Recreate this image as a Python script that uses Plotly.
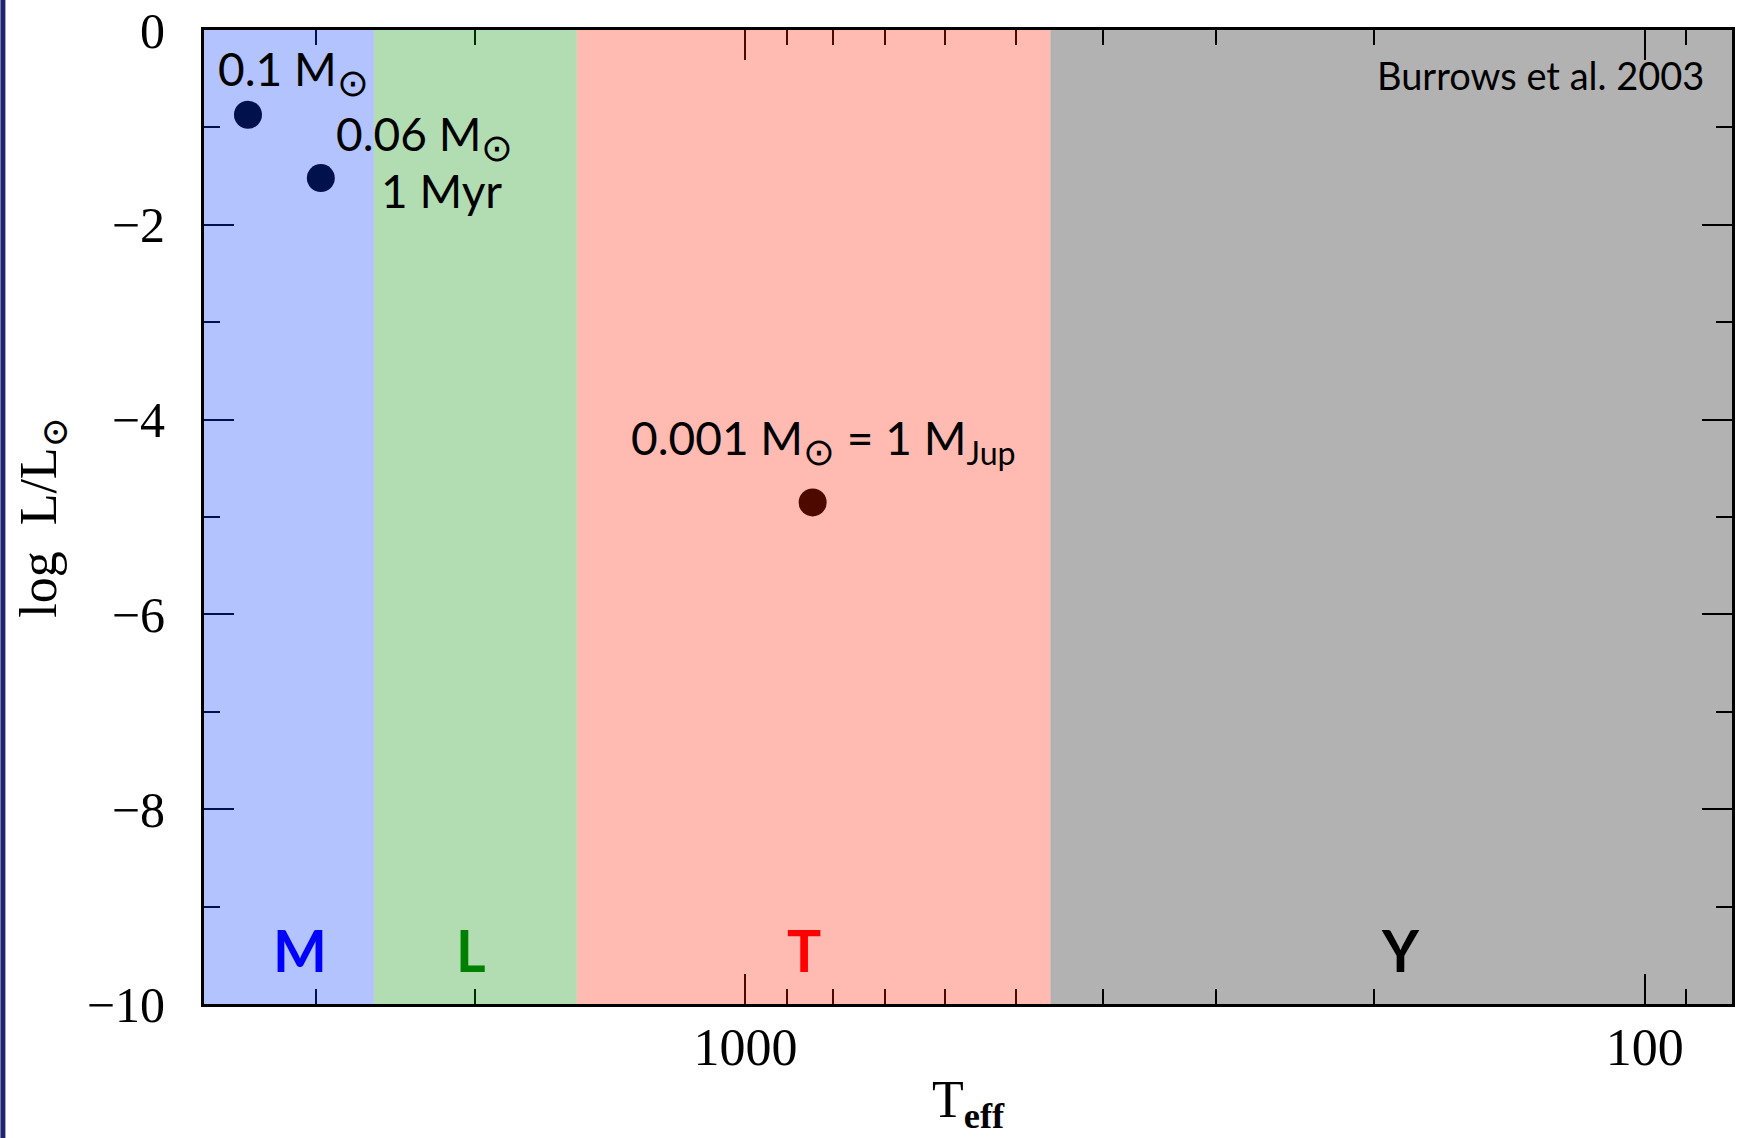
import numpy as np
import plotly.graph_objects as go

# Spectral-class bands (Teff edges in K, hot -> cool)
band_names = ["M", "L", "T", "Y"]
band_edges = [4000, 2590, 1540, 458, 80]
band_fill = ["rgb(0,55,248)", "rgb(0,140,0)", "rgb(255,30,0)", "rgb(0,0,0)"]
label_colors = ["#0000ff", "#008000", "#ff0000", "#000000"]
label_teff = [3130, 2018, 860, 187]
label_logL = -9.45

# Burrows et al. 2003 models at 1 Myr
mass_labels = ["0.1", "0.06", "0.001"]
teff = [3574, 2966, 842]
logL = [-0.87, -1.52, -4.85]

x_major = [1000, 100]
x_major_text = ["1000", "100"]
x_minor = [3000, 2000, 900, 800, 700, 600, 500, 400, 300, 200, 90]
y_range = [-10, 0]

W, H = 1737, 1138
ML, MR, MT, MB = 204, 2, 29, 134
PW, PH = W - ML - MR, H - MT - MB


def paper(xp, yp):
    return (xp - ML) / PW, (H - MB - yp) / PH


fig = go.Figure()
fig.add_trace(go.Scatter(x=teff, y=logL, mode="markers",
                         marker=dict(size=28, color="black"),
                         showlegend=False, hoverinfo="skip"))

shapes = []
for i, name in enumerate(band_names):
    shapes.append(dict(type="rect", xref="x", yref="y",
                       x0=band_edges[i], x1=band_edges[i + 1],
                       y0=y_range[0], y1=y_range[1],
                       fillcolor=band_fill[i], opacity=0.3,
                       line=dict(width=0), layer="above"))
# dark slide edge on the left
sx0, _ = paper(0, 0)
sx1, _ = paper(5, 0)
shapes.append(dict(type="rect", xref="paper", yref="paper", x0=sx0, x1=sx1,
                   y0=-0.3, y1=1.2, fillcolor="#1f2370", line=dict(width=0), layer="below"))

sans = "Lato, 'Open Sans', sans-serif"
serif = "'Liberation Serif', 'DejaVu Serif', serif"
annotations = []
SUN = '<sub><span style="font-size:38px">⊙</span></sub>'


def add_text(text, xp, yp, size, xanchor="left", color="black", family=sans, angle=0):
    x, y = paper(xp, yp)
    annotations.append(dict(text=text, x=x, y=y, xref="paper", yref="paper",
                            xanchor=xanchor, yanchor="middle", showarrow=False,
                            textangle=angle,
                            font=dict(size=size, color=color, family=family)))


add_text("0.1 M" + SUN, 216, 72, 46)
add_text("0.06 M" + SUN, 334, 137, 46)
add_text("1 Myr", 379, 190, 46)
add_text("0.001 M" + SUN + " = 1 M<sub>Jup</sub>", 630, 441, 46)
add_text("Burrows et al. 2003", 1709, 74, 38, xanchor="right")

for name, t, c in zip(band_names, label_teff, label_colors):
    annotations.append(dict(text="<b>" + name + "</b>", x=np.log10(t), y=label_logL,
                            xref="x", yref="y", xanchor="center", yanchor="middle",
                            showarrow=False,
                            font=dict(size=57, color=c, family=sans)))

add_text("log  L/L<sub>⊙</sub>", 42, 517, 52, xanchor="center", family=serif, angle=-90)
add_text("T<sub><b>eff</b></sub>", 970, 1104, 52, xanchor="center", family=serif)

fig.update_layout(
    width=W, height=H,
    margin=dict(l=ML, r=MR, t=MT, b=MB),
    paper_bgcolor="white", plot_bgcolor="white",
    shapes=shapes, annotations=annotations,
    showlegend=False,
    xaxis=dict(type="log", range=[np.log10(band_edges[0]), np.log10(band_edges[-1])],
               tickmode="array", tickvals=x_major, ticktext=x_major_text,
               ticks="inside", ticklen=30, tickwidth=2, tickcolor="black",
               showline=True, linewidth=3, linecolor="black", mirror="ticks",
               showgrid=False, zeroline=False, ticklabelstandoff=-4,
               tickfont=dict(family=serif, size=52, color="black"),
               minor=dict(tickmode="array", tickvals=x_minor, ticks="inside",
                          ticklen=15, tickwidth=2, tickcolor="black", showgrid=False)),
    yaxis=dict(range=y_range, tickmode="linear", tick0=0, dtick=2,
               ticks="inside", ticklen=30, tickwidth=2, tickcolor="black",
               showline=True, linewidth=3, linecolor="black", mirror="ticks",
               showgrid=False, zeroline=False, ticklabelstandoff=26,
               tickfont=dict(family=serif, size=50, color="black"),
               minor=dict(dtick=1, ticks="inside", ticklen=16, tickwidth=2,
                          tickcolor="black", showgrid=False)),
)

fig.write_html("out.html")
